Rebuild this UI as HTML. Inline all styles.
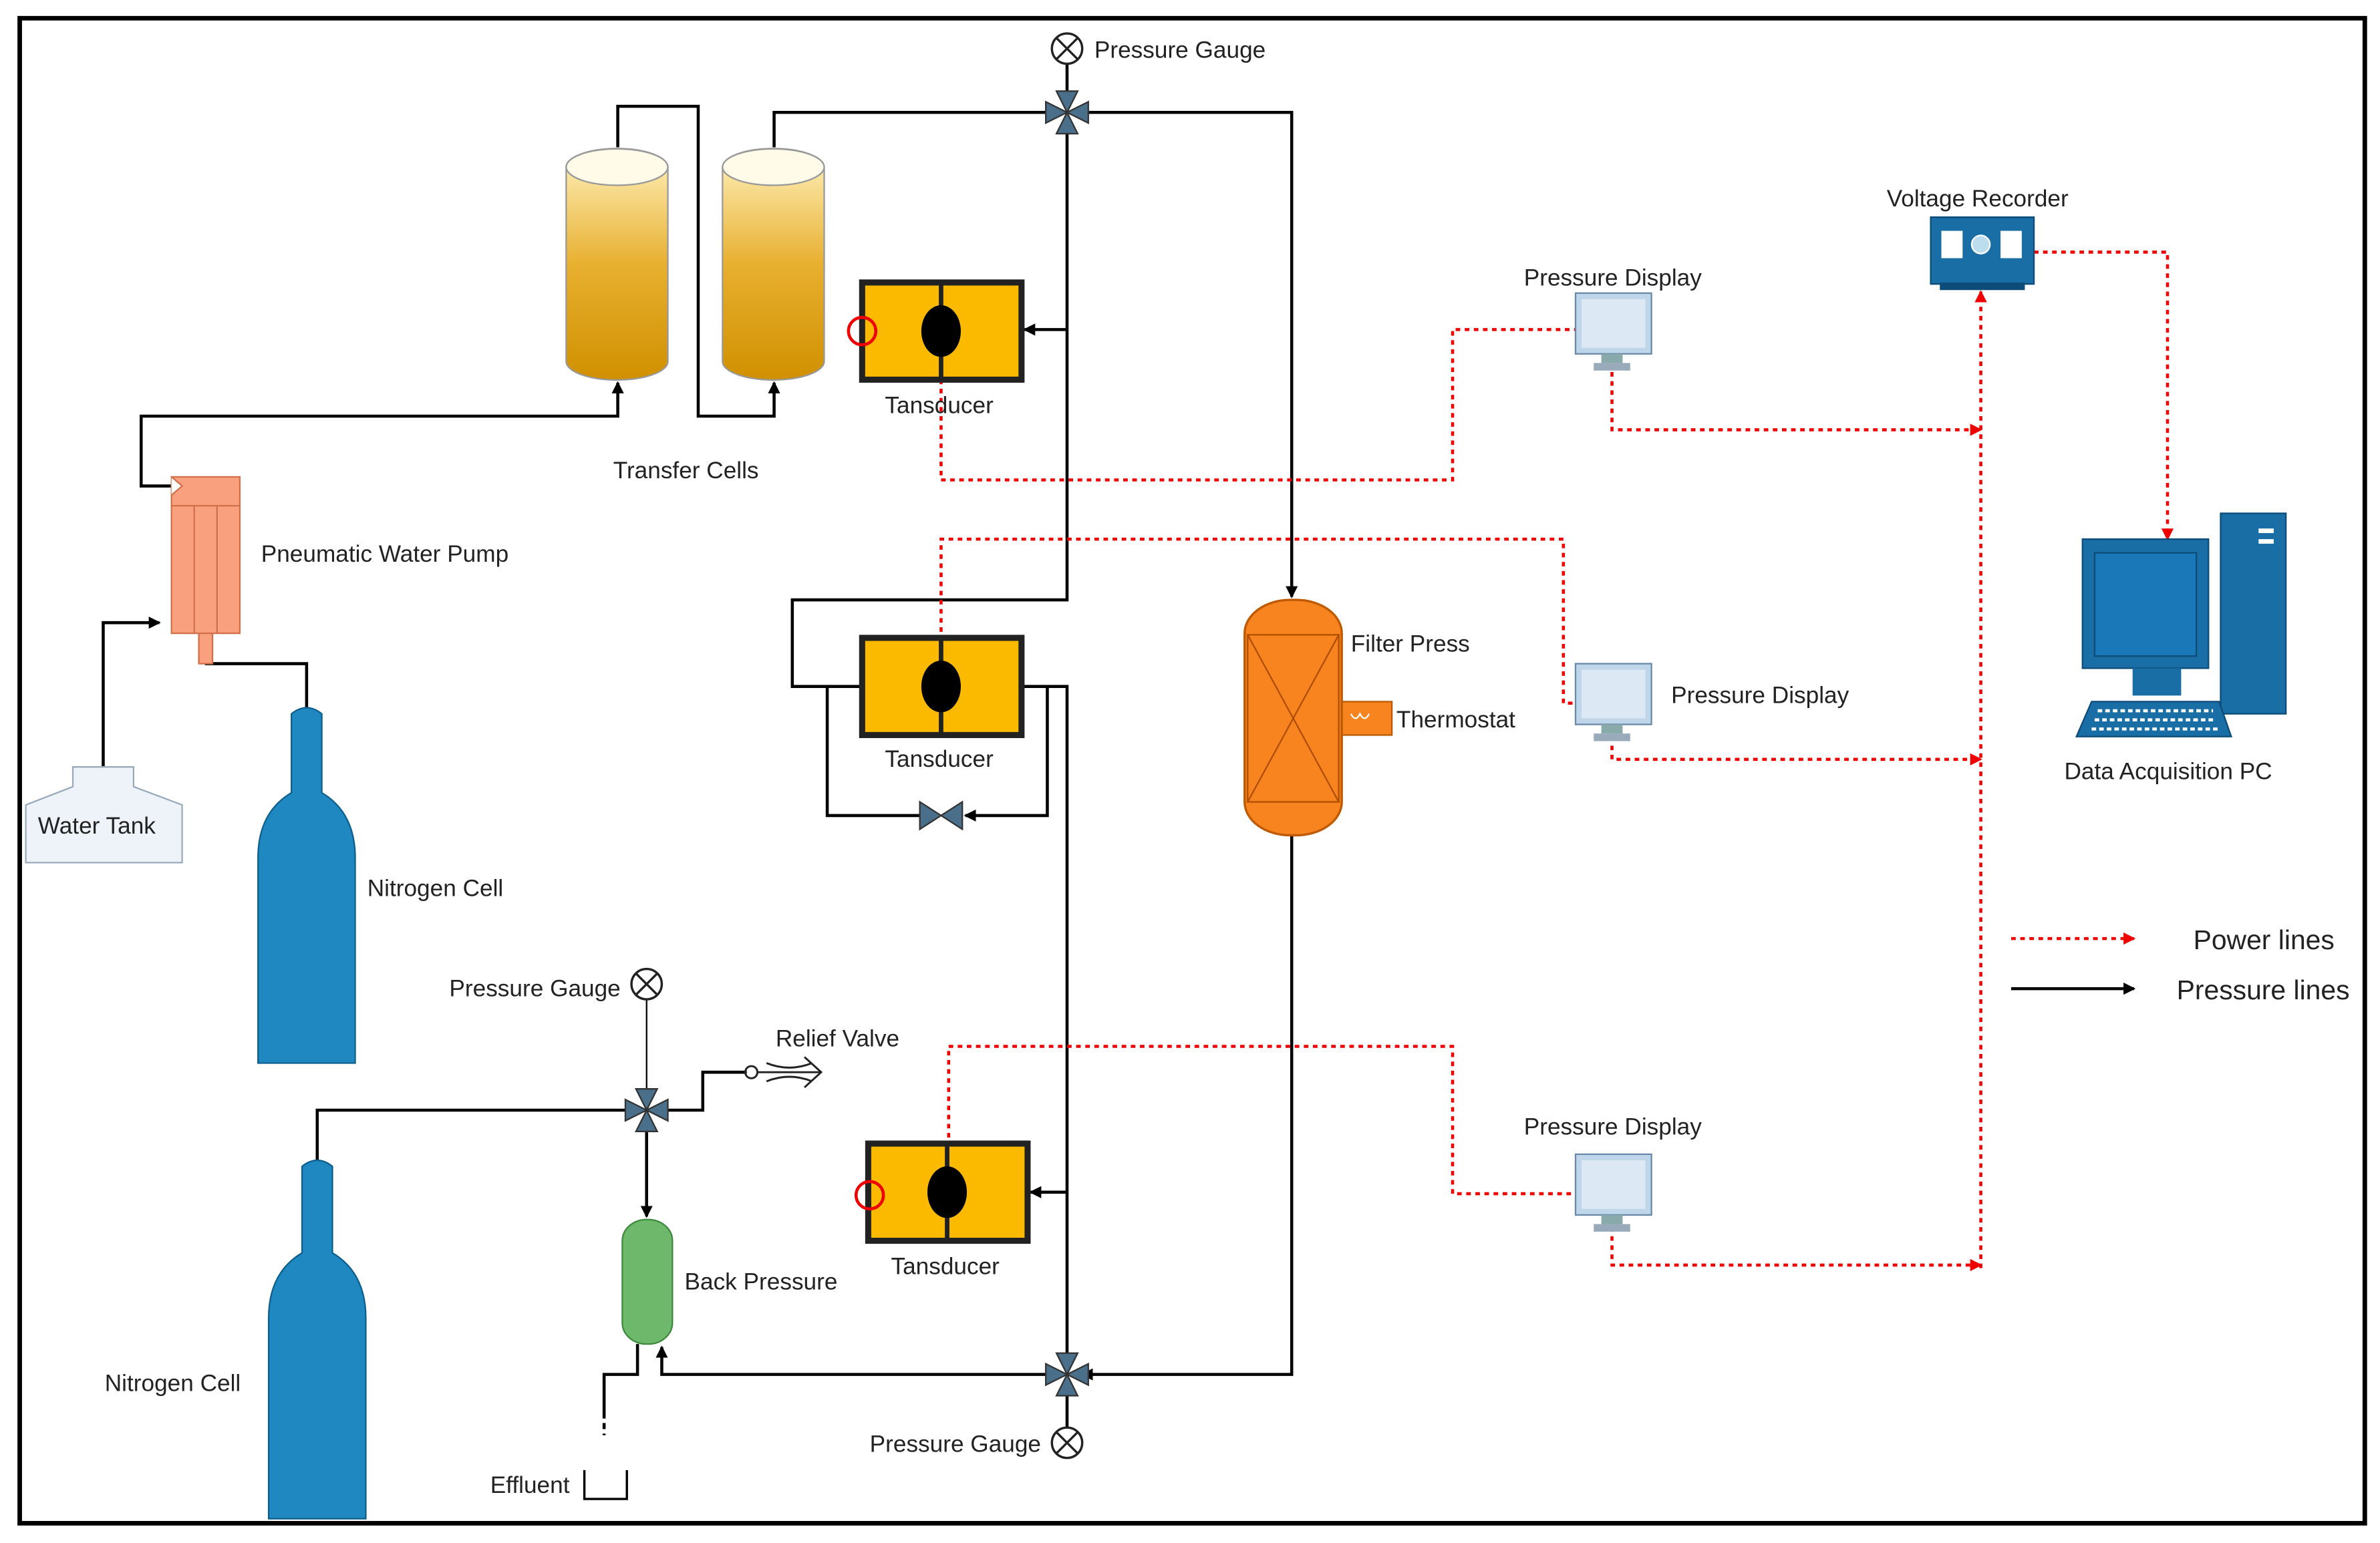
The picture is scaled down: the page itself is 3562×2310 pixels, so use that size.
<!DOCTYPE html>
<html><head><meta charset="utf-8"><style>
html,body{margin:0;padding:0;background:#fff;}
svg{display:block;}
text{font-family:"Liberation Sans",sans-serif;font-size:15.5px;fill:#222;}
</style></head><body>
<svg width="3562" height="2310" viewBox="0 0 1568 1016" preserveAspectRatio="none" xmlns="http://www.w3.org/2000/svg">
<defs>
<marker id="ab" markerWidth="8" markerHeight="8" refX="7" refY="4" orient="auto" markerUnits="userSpaceOnUse"><path d="M0,0 L8,4 L0,8 z" fill="#000"/></marker>
<marker id="ar" markerWidth="8" markerHeight="8" refX="7" refY="4" orient="auto" markerUnits="userSpaceOnUse"><path d="M0,0 L8,4 L0,8 z" fill="#e00"/></marker>
<linearGradient id="cyl" x1="0" x2="0" y1="0" y2="1"><stop offset="0" stop-color="#fff3c0"/><stop offset="0.5" stop-color="#e8b030"/><stop offset="1" stop-color="#d09000"/></linearGradient>
</defs>
<rect x="13" y="12" width="1545" height="991" fill="#fff" stroke="#000" stroke-width="3"/>

<g fill="none" stroke="#000" stroke-width="2">
<polyline points="113,320 93,320 93,274 407,274 407,252" marker-end="url(#ab)"/>
<polyline points="407,97 407,70 460,70 460,274 510,274 510,252" marker-end="url(#ab)"/>
<polyline points="510,97 510,74 697,74"/>
<polyline points="711,74 851,74 851,393" marker-end="url(#ab)"/>
<polyline points="703,82 703,395 522,395 522,452 545,452 567,452"/>
<polyline points="703,217 675,217" marker-end="url(#ab)"/>
<polyline points="545,452 545,537 606,537"/>
<polyline points="690,452 690,537 636,537" marker-end="url(#ab)"/>
<polyline points="673,452 703,452 703,897"/>
<polyline points="703,785 679,785" marker-end="url(#ab)"/>
<polyline points="851,550 851,905 713,905" marker-end="url(#ab)"/>
<polyline points="695,905 436,905 436,887" marker-end="url(#ab)"/>
<line x1="703" y1="40" x2="703" y2="66"/>
<line x1="703" y1="913" x2="703" y2="940"/>
<polyline points="68,505 68,410 105,410" marker-end="url(#ab)"/>
<polyline points="202,470 202,437 136,437 136,427" marker-end="url(#ab)"/>
<polyline points="209,770 209,731 418,731"/>
<line x1="426" y1="658" x2="426" y2="723" stroke-width="1"/>
<polyline points="434,731 463,731 463,706 492,706"/>
<polyline points="426,739 426,801" marker-end="url(#ab)"/>
<polyline points="420,885 420,905 398,905 398,930"/>
<line x1="398" y1="930" x2="398" y2="945" stroke-dasharray="4,3"/>
<polyline points="385,968 385,987 413,987 413,968" stroke-width="1.5"/>
<line x1="1325" y1="651" x2="1406" y2="651" marker-end="url(#ab)"/>
</g>

<g fill="none" stroke="#e00" stroke-width="2" stroke-dasharray="3,3">
<polyline points="620,232 620,316 957,316 957,217 1060,217" marker-end="url(#ar)"/>
<polyline points="1062,245 1062,283 1305,283" marker-end="url(#ar)"/>
<polyline points="1305,835 1305,192" marker-end="url(#ar)"/>
<polyline points="620,452 620,355 1030,355 1030,463 1060,463" marker-end="url(#ar)"/>
<polyline points="1062,485 1062,500 1305,500" marker-end="url(#ar)"/>
<polyline points="625,785 625,689 957,689 957,786 1060,786" marker-end="url(#ar)"/>
<polyline points="1062,808 1062,833 1305,833" marker-end="url(#ar)"/>
<polyline points="1340,166 1428,166 1428,355" marker-end="url(#ar)"/>
<line x1="1325" y1="618" x2="1406" y2="618" marker-end="url(#ar)"/>
</g>

<g stroke="#999" stroke-width="1">
<path d="M373,110 A33,12 0 0 1 440,110 L440,238 A33,12 0 0 1 373,238 Z" fill="url(#cyl)"/>
<ellipse cx="406.5" cy="110" rx="33.5" ry="12" fill="#fffbe8"/>
<path d="M476,110 A33,12 0 0 1 543,110 L543,238 A33,12 0 0 1 476,238 Z" fill="url(#cyl)"/>
<ellipse cx="509.5" cy="110" rx="33.5" ry="12" fill="#fffbe8"/>
</g>

<g>
<rect x="568" y="186" width="105" height="64" fill="#fbb900" stroke="#222" stroke-width="4"/>
<line x1="620" y1="186" x2="620" y2="250" stroke="#222" stroke-width="3"/>
<ellipse cx="620" cy="218" rx="13" ry="17" fill="#000"/>
<circle cx="568" cy="218" r="9" fill="none" stroke="#e00" stroke-width="2"/>
<rect x="568" y="420" width="105" height="64" fill="#fbb900" stroke="#222" stroke-width="4"/>
<line x1="620" y1="420" x2="620" y2="484" stroke="#222" stroke-width="3"/>
<ellipse cx="620" cy="452" rx="13" ry="17" fill="#000"/>
<rect x="572" y="753" width="105" height="64" fill="#fbb900" stroke="#222" stroke-width="4"/>
<line x1="624" y1="753" x2="624" y2="817" stroke="#222" stroke-width="3"/>
<ellipse cx="624" cy="785" rx="13" ry="17" fill="#000"/>
<circle cx="573" cy="787" r="9" fill="none" stroke="#e00" stroke-width="2"/>
</g>

<g fill="#4a6f8a" stroke="#333" stroke-width="1">
<path d="M689,67 L703,74 L689,81 Z M717,67 L703,74 L717,81 Z M696,60 L703,74 L710,60 Z M696,88 L703,74 L710,88 Z"/>
<path d="M689,898 L703,905 L689,912 Z M717,898 L703,905 L717,912 Z M696,891 L703,905 L710,891 Z M696,919 L703,905 L710,919 Z"/>
<path d="M412,724 L426,731 L412,738 Z M440,724 L426,731 L440,738 Z M419,717 L426,731 L433,717 Z M419,745 L426,731 L433,745 Z"/>
<path d="M606,528 L620,537 L606,546 Z M634,528 L620,537 L634,546 Z"/>
</g>
<g fill="#fff" stroke="#222" stroke-width="1.5">
<circle cx="703" cy="32" r="10"/><path d="M696,25 L710,39 M710,25 L696,39"/>
<circle cx="703" cy="950" r="10"/><path d="M696,943 L710,957 M710,943 L696,957"/>
<circle cx="426" cy="648" r="10"/><path d="M419,641 L433,655 M433,641 L419,655"/>
</g>
<g fill="none" stroke="#222" stroke-width="1.3">
<circle cx="495" cy="706" r="4"/>
<path d="M499,706 L540,706 M505,700 Q520,706 535,700 M505,712 Q520,706 535,712 M530,696 L541,706 L530,716"/>
</g>

<rect x="884" y="462" width="33" height="22" fill="#f7841f" stroke="#b85a00"/>
<path d="M890,470 q3,6 6,0 q3,6 6,0" fill="none" stroke="#fff" stroke-width="1"/>
<rect x="820" y="395" width="64" height="155" rx="30" ry="22" fill="#f7841f" stroke="#c05a00" stroke-width="1.5"/>
<path d="M822,418 L882,418 L822,528 L882,528 Z" fill="none" stroke="#b04e00" stroke-width="1"/>
<line x1="822" y1="418" x2="822" y2="528" stroke="#b04e00"/><line x1="882" y1="418" x2="882" y2="528" stroke="#b04e00"/>

<rect x="113" y="314" width="45" height="103" fill="#f9a07e" stroke="#d2704a"/>
<line x1="113" y1="333" x2="158" y2="333" stroke="#d2704a"/>
<line x1="128" y1="333" x2="128" y2="417" stroke="#d2704a"/>
<line x1="143" y1="333" x2="143" y2="417" stroke="#d2704a"/>
<rect x="131" y="417" width="9" height="20" fill="#f9a07e" stroke="#d2704a"/>
<path d="M113,314 L120,320 L113,326" fill="#fff" stroke="#d2704a"/>

<path d="M48,505 L88,505 L88,518 L120,530 L120,568 L17,568 L17,530 L48,518 Z" fill="#eef3fa" stroke="#9ab"/>

<g fill="#1f88c0" stroke="#0d5f8e">
<path d="M192,470 Q202,462 212,470 L212,522 Q234,535 234,565 L234,700 L170,700 L170,565 Q170,535 192,522 Z"/>
<path d="M199,768 Q209,760 219,768 L219,825 Q241,838 241,868 L241,1000 L177,1000 L177,868 Q177,838 199,825 Z"/>
</g>

<rect x="410" y="803" width="33" height="82" rx="16" ry="14" fill="#6db86a" stroke="#3e8a3e"/>

<g>
<rect x="1038" y="193" width="50" height="40" fill="#bfd6ea" stroke="#6a88a8"/><rect x="1042" y="197" width="42" height="32" fill="#dce9f5"/>
<rect x="1055" y="233" width="14" height="6" fill="#8aa"/><rect x="1050" y="239" width="24" height="5" fill="#9ab"/>
<rect x="1038" y="437" width="50" height="40" fill="#bfd6ea" stroke="#6a88a8"/><rect x="1042" y="441" width="42" height="32" fill="#dce9f5"/>
<rect x="1055" y="477" width="14" height="6" fill="#8aa"/><rect x="1050" y="483" width="24" height="5" fill="#9ab"/>
<rect x="1038" y="760" width="50" height="40" fill="#bfd6ea" stroke="#6a88a8"/><rect x="1042" y="764" width="42" height="32" fill="#dce9f5"/>
<rect x="1055" y="800" width="14" height="6" fill="#8aa"/><rect x="1050" y="806" width="24" height="5" fill="#9ab"/>
</g>

<rect x="1272" y="143" width="68" height="44" fill="#1a6ea6" stroke="#0d4c78"/>
<rect x="1278" y="186" width="56" height="5" fill="#0d4c78"/>
<rect x="1279" y="152" width="14" height="18" fill="#fff"/><rect x="1318" y="152" width="14" height="18" fill="#fff"/>
<circle cx="1305" cy="161" r="6" fill="#bde" stroke="#fff"/>

<rect x="1463" y="338" width="43" height="132" fill="#1a6ea6" stroke="#0d4c78"/>
<rect x="1488" y="348" width="10" height="3" fill="#fff"/><rect x="1488" y="355" width="10" height="3" fill="#fff"/>
<rect x="1372" y="355" width="83" height="85" fill="#1a6ea6" stroke="#0d4c78"/>
<rect x="1380" y="364" width="67" height="68" fill="#1a78b8" stroke="#0d4c78"/>
<rect x="1405" y="440" width="32" height="18" fill="#1a6ea6"/>
<path d="M1378,462 L1462,462 L1470,485 L1368,485 Z" fill="#1a6ea6" stroke="#0d4c78"/>
<path d="M1382,468 L1458,468 M1380,474 L1460,474 M1378,480 L1462,480" stroke="#fff" stroke-width="2" stroke-dasharray="3,2"/>

<text x="721" y="38">Pressure Gauge</text>
<text x="404" y="315">Transfer Cells</text>
<text x="583" y="272">Tansducer</text>
<text x="583" y="505">Tansducer</text>
<text x="587" y="839">Tansducer</text>
<text x="172" y="370">Pneumatic Water Pump</text>
<text x="25" y="549">Water Tank</text>
<text x="242" y="590">Nitrogen Cell</text>
<text x="69" y="916">Nitrogen Cell</text>
<text x="296" y="656">Pressure Gauge</text>
<text x="511" y="689">Relief Valve</text>
<text x="451" y="849">Back Pressure</text>
<text x="323" y="983">Effluent</text>
<text x="573" y="956">Pressure Gauge</text>
<text x="890" y="429">Filter Press</text>
<text x="920" y="479">Thermostat</text>
<text x="1004" y="188">Pressure Display</text>
<text x="1101" y="463">Pressure Display</text>
<text x="1004" y="747">Pressure Display</text>
<text x="1243" y="136">Voltage Recorder</text>
<text x="1360" y="513">Data Acquisition PC</text>
<text x="1445" y="625" style="font-size:18px">Power lines</text>
<text x="1434" y="658" style="font-size:18px">Pressure lines</text>
</svg>
</body></html>
